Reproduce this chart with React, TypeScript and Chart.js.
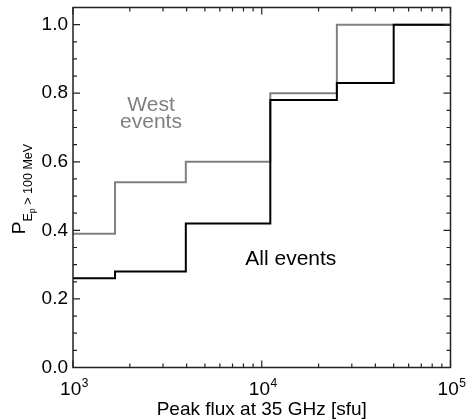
import React, { useEffect, useRef } from 'react';
import { Chart, registerables } from 'chart.js';

Chart.register(...registerables);

// ---- data ----
const westEdges = [1000, 1670, 3960, 11100, 25000];
const westValues = [0.39, 0.54, 0.6, 0.8, 1.0];
const allEdges = [1000, 1670, 3960, 11100, 25000, 50000];
const allValues = [0.26, 0.28, 0.42, 0.78, 0.83, 1.0];
const xMin = 1e3;
const xMax = 1e5;
const yMin = 0;
const yMax = 1.05;
const yMajorTicks = [0, 0.2, 0.4, 0.6, 0.8, 1.0];
const yMinorStep = 0.05;
const xMajorTicks = [1e3, 1e4, 1e5];
const xTickExponents = ['3', '4', '5'];
const xMinorMultipliers = [2, 3, 4, 5, 6, 7, 8, 9];
const xTitle = 'Peak flux at 35 GHz [sfu]';
const yTitleMain = 'P';
const yTitleSub = 'E';
const yTitleSubSub = 'p';
const yTitleRest = ' > 100 MeV';
const westLabel = ['West', 'events'];
const westLabelAt = { x: 2590, y: [0.749, 0.70] };
const allLabel = 'All events';
const allLabelAt = { x: 14260, y: 0.299 };

const FONT = "'Liberation Sans', Arial, Helvetica, sans-serif";
const GRAY = '#808080';

function stepPoints(edges: number[], values: number[]) {
  const pts = edges.map((e, i) => ({ x: e, y: values[i] }));
  pts.push({ x: xMax, y: values[values.length - 1] });
  return pts;
}

const framePlugin = {
  id: 'framePlugin',
  afterDatasetsDraw(chart: any) {
    const { ctx, chartArea: a, scales } = chart;
    const x = scales.x;
    const y = scales.y;
    ctx.save();
    ctx.strokeStyle = '#222';
    ctx.lineWidth = 1.2;
    ctx.beginPath();
    const nY = Math.round((yMax - yMin) / yMinorStep);
    for (let i = 0; i <= nY; i++) {
      const v = yMin + i * yMinorStep;
      const major = yMajorTicks.some((t) => Math.abs(t - v) < 1e-6);
      const len = major ? 7 : 4;
      const py = y.getPixelForValue(v);
      ctx.moveTo(a.left, py);
      ctx.lineTo(a.left + len, py);
      ctx.moveTo(a.right, py);
      ctx.lineTo(a.right - len, py);
    }
    xMajorTicks.forEach((t, idx) => {
      const px = x.getPixelForValue(t);
      ctx.moveTo(px, a.bottom);
      ctx.lineTo(px, a.bottom - 7);
      ctx.moveTo(px, a.top);
      ctx.lineTo(px, a.top + 7);
      if (idx < xMajorTicks.length - 1) {
        xMinorMultipliers.forEach((m) => {
          const pm = x.getPixelForValue(t * m);
          ctx.moveTo(pm, a.bottom);
          ctx.lineTo(pm, a.bottom - 4);
          ctx.moveTo(pm, a.top);
          ctx.lineTo(pm, a.top + 4);
        });
      }
    });
    ctx.stroke();
    ctx.lineWidth = 1.5;
    ctx.strokeRect(a.left, a.top, a.right - a.left, a.bottom - a.top);
    ctx.restore();
  },
  afterDraw(chart: any) {
    const { ctx, chartArea: a, scales } = chart;
    const x = scales.x;
    const y = scales.y;
    ctx.save();
    ctx.fillStyle = '#000';
    ctx.textBaseline = 'alphabetic';
    ctx.textAlign = 'left';
    xMajorTicks.forEach((t, i) => {
      const px = x.getPixelForValue(t);
      ctx.font = `19px ${FONT}`;
      const wBase = ctx.measureText('10').width;
      ctx.font = `12px ${FONT}`;
      const wExp = ctx.measureText(xTickExponents[i]).width;
      const start = px - (wBase + wExp) / 2 + 1;
      ctx.font = `19px ${FONT}`;
      ctx.fillText('10', start, a.bottom + 27);
      ctx.font = `12px ${FONT}`;
      ctx.fillText(xTickExponents[i], start + wBase + 0.5, a.bottom + 19);
    });
    ctx.font = `19px ${FONT}`;
    ctx.textAlign = 'center';
    ctx.fillText(xTitle, (a.left + a.right) / 2, a.bottom + 47);

    ctx.textAlign = 'left';
    const fMain = `19px ${FONT}`;
    const fSub = `12.5px ${FONT}`;
    const fSubSub = `9px ${FONT}`;
    ctx.font = fMain;
    const w1 = ctx.measureText(yTitleMain).width;
    ctx.font = fSub;
    const w2 = ctx.measureText(yTitleSub).width;
    const w4 = ctx.measureText(yTitleRest).width;
    ctx.font = fSubSub;
    const w3 = ctx.measureText(yTitleSubSub).width;
    const total = w1 + w2 + w3 + w4;
    const cy = (a.top + a.bottom) / 2 + 1.5;
    ctx.translate(25, cy);
    ctx.rotate(-Math.PI / 2);
    let cx = -total / 2;
    ctx.font = fMain;
    ctx.fillText(yTitleMain, cx, 0);
    cx += w1;
    ctx.font = fSub;
    ctx.fillText(yTitleSub, cx, 6.7);
    cx += w2;
    ctx.font = fSubSub;
    ctx.fillText(yTitleSubSub, cx, 9.5);
    cx += w3;
    ctx.font = fSub;
    ctx.fillText(yTitleRest, cx, 6.7);
    ctx.setTransform(1, 0, 0, 1, 0, 0);

    ctx.textAlign = 'center';
    ctx.font = `21px ${FONT}`;
    ctx.fillStyle = GRAY;
    const wx = x.getPixelForValue(westLabelAt.x);
    ctx.fillText(westLabel[0], wx, y.getPixelForValue(westLabelAt.y[0]));
    ctx.fillText(westLabel[1], wx, y.getPixelForValue(westLabelAt.y[1]));
    ctx.fillStyle = '#000';
    ctx.fillText(allLabel, x.getPixelForValue(allLabelAt.x), y.getPixelForValue(allLabelAt.y));
    ctx.restore();
  },
};

export default function App() {
  const ref = useRef<HTMLCanvasElement>(null);
  useEffect(() => {
    if (!ref.current) return;
    const chart = new Chart(ref.current, {
      type: 'line',
      data: {
        datasets: [
          {
            label: 'All events',
            data: stepPoints(allEdges, allValues),
            borderColor: '#000',
            borderWidth: 2,
            stepped: 'before',
            pointRadius: 0,
            fill: false,
          },
          {
            label: 'West events',
            data: stepPoints(westEdges, westValues),
            borderColor: GRAY,
            borderWidth: 2,
            stepped: 'before',
            pointRadius: 0,
            fill: false,
          },
        ],
      },
      options: {
        animation: false,
        responsive: false,
        devicePixelRatio: 1,
        layout: { padding: { top: 7.5, right: 19.5, left: 0, bottom: 0 } },
        plugins: { legend: { display: false }, tooltip: { enabled: false } },
        scales: {
          x: {
            type: 'logarithmic',
            min: xMin,
            max: xMax,
            grid: { display: false, drawTicks: false },
            border: { display: false },
            ticks: { display: false },
            afterFit: (s: any) => {
              s.height = 52.5;
              s.paddingLeft = 0;
              s.paddingRight = 0;
              s.paddingTop = 0;
              s.paddingBottom = 0;
            },
          },
          y: {
            type: 'linear',
            min: yMin,
            max: yMax,
            grid: { display: false, drawTicks: false },
            border: { display: false },
            ticks: {
              stepSize: 0.2,
              includeBounds: false,
              padding: 5,
              color: '#000',
              font: { family: FONT, size: 19 },
              callback: (v: any) => Number(v).toFixed(1),
            },
            afterFit: (s: any) => {
              s.width = 73;
              s.paddingLeft = 0;
              s.paddingRight = 0;
              s.paddingTop = 0;
              s.paddingBottom = 0;
            },
          },
        },
      },
      plugins: [framePlugin],
    });
    return () => chart.destroy();
  }, []);
  return (
    <div style={{ position: 'absolute', left: 0, top: 0, width: 470, height: 420, background: '#fff' }}>
      <canvas ref={ref} width={470} height={420} />
    </div>
  );
}
